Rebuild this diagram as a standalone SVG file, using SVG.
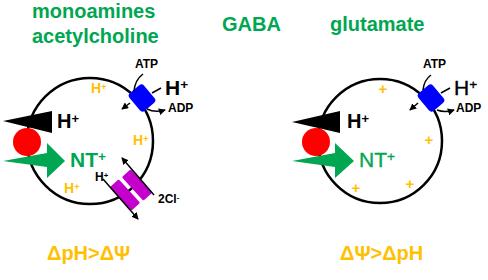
<svg xmlns="http://www.w3.org/2000/svg" width="488" height="280" viewBox="0 0 488 280">
  <style>
    text { font-family: "Liberation Sans", Arial, sans-serif; }
    .title { font-size: 20px; font-weight: bold; fill: #00a651; }
    .delta { font-size: 20px; font-weight: bold; fill: #ffc000; }
    .h { font-size: 20px; font-weight: bold; fill: #000; }
    .hp { font-size: 21px; font-weight: bold; fill: #000; }
    .small { font-size: 12px; font-weight: bold; fill: #000; }
    .nt { font-size: 21px; font-weight: bold; fill: #00a651; }
    .hy { font-size: 14px; font-weight: bold; fill: #ffc000; }
    .plus { font-size: 15px; font-weight: bold; fill: #ffc000; text-anchor: middle; }
    .sup { font-size: 65%; }
    .thin { font-weight: normal; stroke-width: .35; }
    .vesicle { fill: #fff; stroke: #000; stroke-width: 2.5; }
    .line { fill: none; stroke: #000; stroke-width: 1.5; }
    .pump { fill: #0000ff; }
    .band { fill: #c400cc; }
    .red { fill: #ff0000; }
    .green { fill: #00a651; }
  </style>
  <defs>
    <marker id="tip" viewBox="0 0 8 8" refX="7" refY="4" markerWidth="7" markerHeight="7" orient="auto" markerUnits="userSpaceOnUse">
      <path d="M0 0L8 4L0 8Z" fill="#000"/>
    </marker>
  </defs>

  <g id="heading-monoamines">
    <text class="title" x="32" y="18">monoamines</text>
    <text class="title" x="32" y="43">acetylcholine</text>
  </g>
  <g id="heading-gaba"><text class="title" x="222" y="31">GABA</text></g>
  <g id="heading-glutamate"><text class="title" x="330" y="31">glutamate</text></g>

  <g id="vesicle-left">
    <circle class="vesicle" cx="90" cy="141" r="63"/>
    <text class="hy" x="91" y="93">H<tspan class="sup" dy="-3">+</tspan></text>
    <text class="hy" x="133" y="145">H<tspan class="sup" dy="-3">+</tspan></text>
    <text class="hy" x="64" y="193">H<tspan class="sup" dy="-3">+</tspan></text>
  </g>
  <g id="vesicle-right">
    <circle class="vesicle" cx="380" cy="141" r="62"/>
    <text class="plus" x="383" y="94">+</text>
    <text class="plus" x="429" y="145">+</text>
    <text class="plus" x="410" y="189">+</text>
    <text class="plus" x="356" y="193">+</text>
  </g>

  <g id="pump-left">
    <rect class="pump" x="-11.5" y="-9.5" width="23" height="19" rx="3.5" transform="translate(142 98) rotate(50)"/>
    <text class="hp" x="165" y="95">H<tspan class="sup" dy="-6">+</tspan></text>
    <text class="small" x="135" y="68">ATP</text>
    <text class="small" x="168" y="112">ADP</text>
  </g>
  <g id="pump-right">
    <rect class="pump" x="-11.5" y="-9.5" width="23" height="19" rx="3.5" transform="translate(431 98) rotate(50)"/>
    <text class="hp thin" x="454" y="95" stroke="#000">H<tspan class="sup" dy="-6">+</tspan></text>
    <text class="small" x="423" y="68">ATP</text>
    <text class="small" x="456" y="112">ADP</text>
  </g>

  <g id="exchanger">
    <rect class="band" x="-16" y="-6" width="32" height="12" rx="1.5" transform="translate(137 185) rotate(47.5)"/>
    <rect class="band" x="-16" y="-6" width="32" height="12" rx="1.5" transform="translate(125 195) rotate(47.5)"/>
    <text class="small" x="95" y="181">H<tspan class="sup" dy="-3">+</tspan></text>
    <text class="small" x="158" y="203">2Cl<tspan class="sup" dy="-3">-</tspan></text>
  </g>

  <g id="connectors">
    <path class="line" d="M161 88L152 93"/>
    <path class="line" d="M130 103L122 109" marker-end="url(#tip)"/>
    <path class="line" d="M134 91Q135 80 143 74"/>
    <path class="line" d="M147 109Q155 113 165 110" marker-end="url(#tip)"/>
    <path class="line" d="M450 88L441 93"/>
    <path class="line" d="M418 103L410 110" marker-end="url(#tip)"/>
    <path class="line" d="M423 90Q424 80 431 75"/>
    <path class="line" d="M437 110Q445 113 454 110" marker-end="url(#tip)"/>
    <path class="line" d="M103 179L138 219" marker-end="url(#tip)"/>
    <path class="line" d="M154 195L122 158" marker-end="url(#tip)"/>
  </g>

  <g id="transporter-left">
    <path d="M3 121L52 111V133Z" fill="#000"/>
    <circle class="red" cx="27" cy="142" r="14"/>
    <path class="green" d="M3 161L47 153V143L65 161L47 178V167Z"/>
    <text class="h" x="57" y="128">H<tspan class="sup" dy="-5">+</tspan></text>
    <text class="nt" x="70" y="167">NT<tspan class="sup" dy="-6">+</tspan></text>
  </g>
  <g id="transporter-right">
    <path d="M292 122L340 111V133Z" fill="#000"/>
    <circle class="red" cx="316" cy="142" r="14"/>
    <path class="green" d="M292 161L335 153V143L354 161L335 178V167Z"/>
    <text class="h" x="347" y="128">H<tspan class="sup" dy="-5">+</tspan></text>
    <text class="nt thin" x="359" y="167" stroke="#00a651">NT<tspan class="sup" dy="-6">+</tspan></text>
  </g>

  <g id="gradient-left"><text class="delta" x="47" y="260">ΔpH&gt;ΔΨ</text></g>
  <g id="gradient-right"><text class="delta" x="340" y="260">ΔΨ&gt;ΔpH</text></g>
</svg>
